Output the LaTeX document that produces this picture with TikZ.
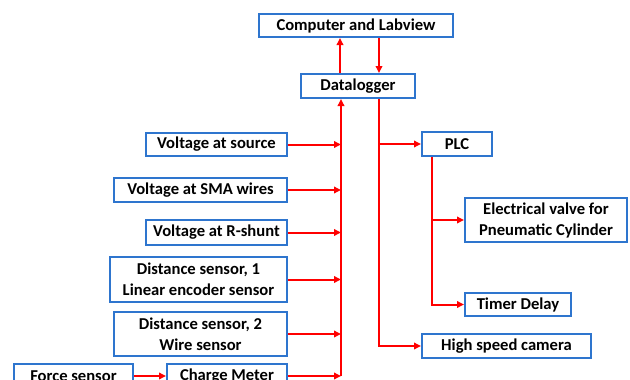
\documentclass[tikz,border=0pt]{standalone}
\usepackage{fontspec}
\setmainfont{Carlito}
\usetikzlibrary{arrows.meta}
\definecolor{boxblue}{RGB}{46,117,206}
\definecolor{arrred}{RGB}{255,0,0}
\tikzset{
  blk/.style={draw=boxblue, line width=2pt, fill=white, rectangle, inner sep=0pt,
    font=\fontsize{16.6}{21}\selectfont\bfseries, align=center, text=black},
  arr/.style={draw=arrred, line width=2pt, -{Triangle[length=7pt,width=6.5pt]}},
  ln/.style={draw=arrred, line width=2pt}
}
\begin{document}
\begin{tikzpicture}[x=1pt,y=-1pt]
\useasboundingbox (0,0) rectangle (630,380);
\node[blk, minimum width=194pt, minimum height=23pt] (comp) at (356,25.5) {Computer and Labview};
\node[blk, minimum width=114pt, minimum height=24pt] (dl) at (358,86) {Datalogger};
\node[blk, minimum width=141pt, minimum height=23pt] (vsrc) at (216.5,144.5) {Voltage at source};
\node[blk, minimum width=173pt, minimum height=24pt] (vsma) at (200.5,190) {Voltage at SMA wires};
\node[blk, minimum width=141pt, minimum height=25pt] (vrs) at (216.5,232.5) {Voltage at R-shunt};
\node[blk, minimum width=177pt, minimum height=45pt] (ds1) at (198.5,279.5) {Distance sensor, 1\\Linear encoder sensor};
\node[blk, minimum width=173pt, minimum height=44pt] (ds2) at (200.5,334) {Distance sensor, 2\\Wire sensor};
\node[blk, minimum width=119pt, minimum height=24pt] (force) at (73.5,376) {Force sensor};
\node[blk, minimum width=120pt, minimum height=24pt] (charge) at (227,376) {Charge Meter};
\node[blk, minimum width=70pt, minimum height=24pt] (plc) at (457,144) {PLC};
\node[blk, minimum width=162pt, minimum height=44pt] (valve) at (546,220) {Electrical valve for\\Pneumatic Cylinder};
\node[blk, minimum width=106pt, minimum height=23pt] (timer) at (518,304.5) {Timer Delay};
\node[blk, minimum width=169pt, minimum height=24pt] (cam) at (506.5,346) {High speed camera};
\coordinate (ua) at (340,0);
\coordinate (da) at (379,0);
\coordinate (busb) at (341,376);
\coordinate (pl) at (432,0);
% datalogger <-> computer
\draw[arr] (dl.north -| ua) -- (comp.south -| ua);
\draw[arr] (comp.south -| da) -- (dl.north -| da);
% input bus
\draw[arr] (busb) -- (dl.south -| busb);
\draw[arr] (vsrc.east) -- (vsrc.east -| busb);
\draw[arr] (vsma.east) -- (vsma.east -| busb);
\draw[arr] (vrs.east) -- (vrs.east -| busb);
\draw[arr] (ds1.east) -- (ds1.east -| busb);
\draw[arr] (ds2.east) -- (ds2.east -| busb);
\draw[arr] (charge.east) -- (busb);
\draw[arr] (force.east) -- (charge.west);
% outputs
\draw[arr] (dl.south -| da) |- (cam.west);
\draw[arr] (plc.west -| da) -- (plc.west);
\draw[arr] (plc.south -| pl) |- (valve.west);
\draw[arr] (plc.south -| pl) |- (timer.west);
\end{tikzpicture}
\end{document}
